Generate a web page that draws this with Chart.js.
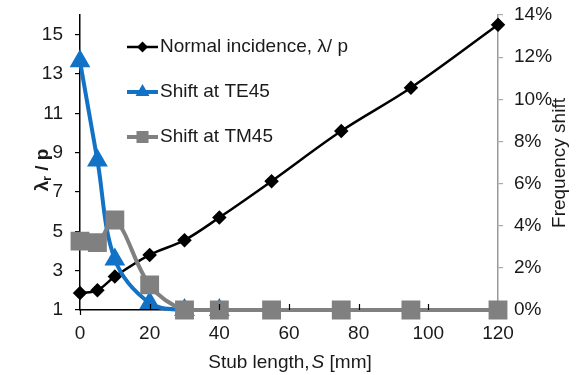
<!DOCTYPE html>
<html><head><meta charset="utf-8">
<script src="https://cdn.jsdelivr.net/npm/chart.js@4/dist/chart.umd.min.js"></script>
<style>html,body{margin:0;padding:0;background:#fff}canvas{display:block}</style>
</head><body>
<canvas id="c" width="582" height="375"></canvas>
<script>
const stubLength = [0,5,10,20,30,40,55,75,95,120];
const normalIncidence = [1.86,2.0,2.7,3.8,4.55,5.7,7.55,10.1,12.3,15.5];
const te45Length = [0,5,10,20,30,40];
const te45Shift = [11.8,7.1,2.4,0.33,0,0];
const tm45Shift = [3.27,3.2,4.27,1.19,0,0,0,0,0,0];
const xTicks = [0,20,40,60,80,100,120];
const leftTicks = [1,3,5,7,9,11,13,15];
const rightTicks = [0,2,4,6,8,10,12,14];
const seriesNames = ['Normal incidence, \u03bb/ p','Shift at TE45','Shift at TM45'];

const FONT = "'Liberation Sans', Arial, sans-serif";
const FS = 19;
const TXT = '#1a1a1a';
const BLUE = '#1172c6';
const GRAY = '#808080';

const pts = (xs, ys) => xs.map((x,i)=>({x, y: ys[i]}));

function drawMarker(ctx, style, x, y, r, color){
  ctx.save(); ctx.fillStyle = color; ctx.beginPath();
  if (style === 'rectRot'){ ctx.moveTo(x, y-r); ctx.lineTo(x+r, y); ctx.lineTo(x, y+r); ctx.lineTo(x-r, y); }
  else if (style === 'triangle'){ ctx.moveTo(x, y-r); ctx.lineTo(x+0.866*r, y+0.5*r); ctx.lineTo(x-0.866*r, y+0.5*r); }
  else { const s = Math.SQRT1_2*r; ctx.rect(x-s, y-s, 2*s, 2*s); }
  ctx.closePath(); ctx.fill(); ctx.restore();
}

const decor = {
  id: 'decor',
  afterDraw(chart){
    const ctx = chart.ctx; const ca = chart.chartArea; const xs = chart.scales.x;
    ctx.save();
    // x tick marks (inward)
    ctx.strokeStyle = '#000'; ctx.lineWidth = 1.2;
    xTicks.forEach(v => {
      const px = Math.round(xs.getPixelForValue(v)) + 0.5;
      ctx.beginPath();
      if (v === 0){ ctx.moveTo(px, ca.bottom); ctx.lineTo(px, ca.bottom+5); }
      else if (v !== 120) { ctx.moveTo(px, ca.bottom-6); ctx.lineTo(px, ca.bottom); }
      ctx.stroke();
    });
    // legend
    const styles = [
      {c:'#000', lw:2.5, m:'rectRot', r:5.5},
      {c:BLUE, lw:4, m:'triangle', r:8},
      {c:GRAY, lw:4, m:'rect', r:8.5}
    ];
    const rowsY = [47, 92, 137];
    styles.forEach((s,i)=>{
      const y = rowsY[i];
      ctx.strokeStyle = s.c; ctx.lineWidth = s.lw;
      ctx.beginPath(); ctx.moveTo(127, y); ctx.lineTo(158, y); ctx.stroke();
      drawMarker(ctx, s.m, 142.5, y, s.r, s.c);
      ctx.fillStyle = TXT; ctx.font = FS + 'px ' + FONT; ctx.textBaseline = 'middle'; ctx.textAlign = 'left';
      ctx.fillText(seriesNames[i], 160, y);
    });
    // left title  λr / p
    ctx.save();
    ctx.translate(43, 170); ctx.rotate(-Math.PI/2);
    ctx.fillStyle = TXT; ctx.textBaseline = 'middle'; ctx.textAlign = 'left';
    const fb = 'bold 19px ' + FONT, fs = 'bold 12px ' + FONT;
    ctx.font = fb; const w1 = ctx.measureText('\u03bb').width; const w3 = ctx.measureText(' / p').width;
    ctx.font = fs; const w2 = ctx.measureText('r').width;
    let sx = -(w1+w2+w3)/2;
    ctx.font = fb; ctx.fillText('\u03bb', sx, 0); sx += w1;
    ctx.font = fs; ctx.fillText('r', sx, 5); sx += w2;
    ctx.font = fb; ctx.fillText(' / p', sx, 0);
    ctx.restore();
    // right title
    ctx.save();
    ctx.translate(560, 163); ctx.rotate(-Math.PI/2);
    ctx.fillStyle = TXT; ctx.font = FS + 'px ' + FONT; ctx.textAlign = 'center'; ctx.textBaseline = 'middle';
    ctx.fillText('Frequency shift', 0, 0);
    ctx.restore();
    // x title
    ctx.fillStyle = TXT; ctx.textBaseline = 'middle'; ctx.textAlign = 'left';
    const fn = FS + 'px ' + FONT, fi = 'italic ' + FS + 'px ' + FONT;
    const parts = [['Stub length,', fn], ['S', fi], [' [mm]', fn]];
    let tw = 0; parts.forEach(p => { ctx.font = p[1]; tw += ctx.measureText(p[0]).width; }); tw += 2;
    let tx = 290 - tw/2;
    parts.forEach((p,i) => { ctx.font = p[1]; ctx.fillText(p[0], tx, 363); tx += ctx.measureText(p[0]).width + (i===0?2:0); });
    ctx.restore();
  }
};

const fitV = w => s => { s.width = w; s.paddingTop = 0; s.paddingBottom = 0; };

new Chart(document.getElementById('c'), {
  type: 'line',
  data: {
    datasets: [
      { label: seriesNames[0], data: pts(stubLength, normalIncidence), yAxisID: 'y',
        borderColor: '#000', backgroundColor: '#000', borderWidth: 2.5,
        pointStyle: 'rectRot', pointRadius: 5.5, order: 3, clip: false },
      { label: seriesNames[1], data: pts(te45Length, te45Shift), yAxisID: 'y1',
        borderColor: BLUE, backgroundColor: BLUE, borderWidth: 4,
        pointStyle: 'triangle', pointRadius: 8, order: 2, clip: false },
      { label: seriesNames[2], data: pts(stubLength, tm45Shift), yAxisID: 'y1',
        borderColor: GRAY, backgroundColor: GRAY, borderWidth: 4,
        pointStyle: 'rect', pointRadius: 10.5, order: 1, clip: false }
    ]
  },
  options: {
    responsive: false, animation: false, devicePixelRatio: 1,
    layout: { padding: { top: 15, left: 0, right: 0, bottom: 0 } },
    elements: { line: { tension: 0.35, fill: false }, point: { borderWidth: 0, hoverRadius: 0 } },
    plugins: { legend: { display: false }, tooltip: { enabled: false } },
    scales: {
      x: {
        type: 'linear', min: 0, max: 120,
        afterBuildTicks: s => { s.ticks = xTicks.map(v => ({value: v})); },
        afterFit: s => { s.height = 65; s.paddingLeft = 0; s.paddingRight = 0; },
        ticks: { font: { size: FS, family: FONT }, color: TXT, padding: 4, maxRotation: 0 },
        grid: { display: false },
        border: { display: true, color: '#000', width: 1.5 }
      },
      y: {
        position: 'left', min: 1, max: 16,
        afterBuildTicks: s => { s.ticks = leftTicks.map(v => ({value: v})); },
        afterFit: fitV(80),
        ticks: { font: { size: FS, family: FONT }, color: TXT, padding: 12 },
        grid: { display: true, drawOnChartArea: false, drawTicks: true, tickLength: 5, color: '#000', lineWidth: 1.2 },
        border: { display: true, color: '#000', width: 1.5 }
      },
      y1: {
        position: 'right', min: 0, max: 14,
        afterBuildTicks: s => { s.ticks = rightTicks.map(v => ({value: v})); },
        afterFit: fitV(84),
        ticks: { font: { size: FS, family: FONT }, color: TXT, padding: 11, callback: v => v + '%' },
        grid: { display: true, drawOnChartArea: false, drawTicks: true, tickLength: 5, color: '#aaa', lineWidth: 1.2 },
        border: { display: true, color: '#999', width: 1.5 }
      }
    }
  },
  plugins: [decor]
});
</script>
</body></html>
